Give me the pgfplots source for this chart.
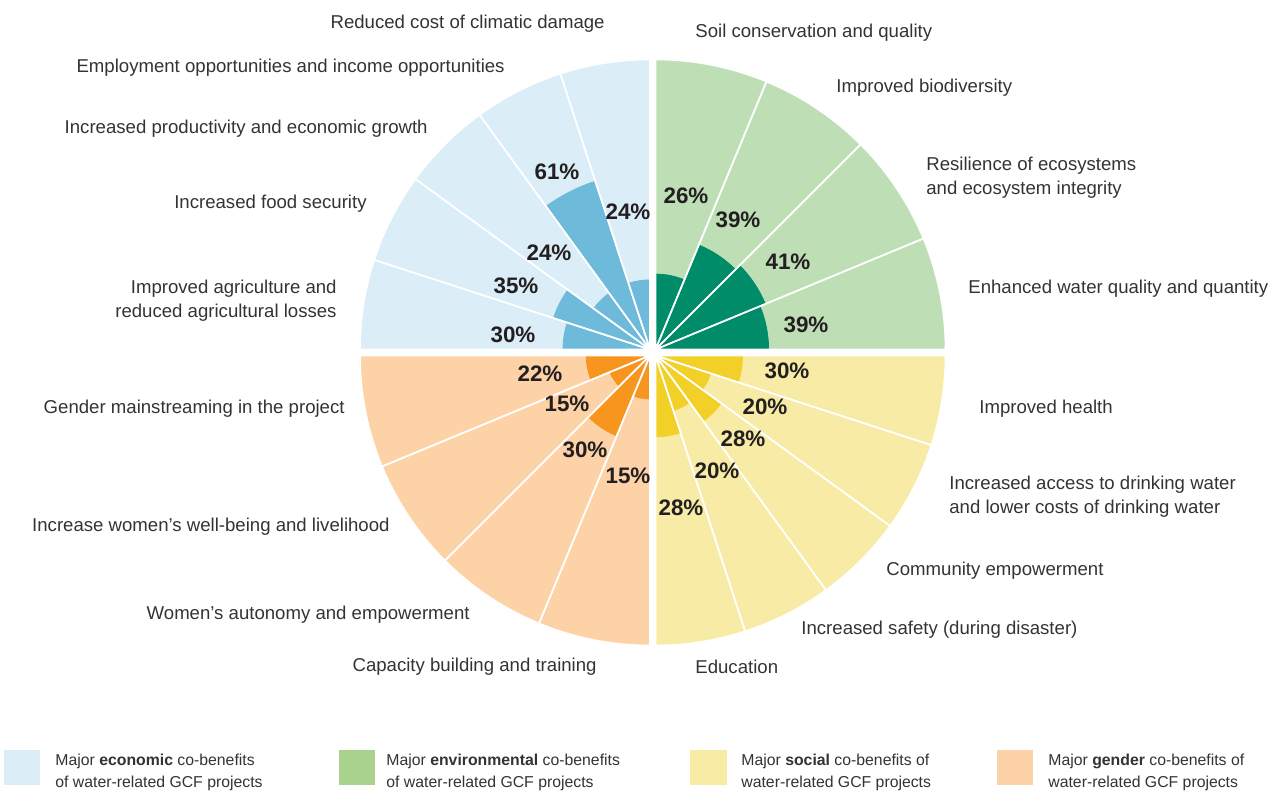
\documentclass[border=0pt]{standalone}
\usepackage{pgfplots}
\usepackage{pgfplotstable}
\usepackage{fontspec}
\pgfplotsset{compat=1.18}
\setmainfont{Liberation Sans}

\definecolor{EconLight}{HTML}{DBEDF7}
\definecolor{EconDark}{HTML}{6DBADB}
\definecolor{EnvLight}{HTML}{BEDFB6}
\definecolor{EnvDark}{HTML}{008B69}
\definecolor{EnvLegend}{HTML}{A9D28E}
\definecolor{SocLight}{HTML}{F8EBA5}
\definecolor{SocDark}{HTML}{F2D027}
\definecolor{GenLight}{HTML}{FED2A7}
\definecolor{GenDark}{HTML}{F7951F}
\definecolor{LabelGray}{HTML}{333333}
\definecolor{PctBlack}{HTML}{231F20}

% one row per wedge: centre of the quadrant, start and end angle, share in %
\pgfplotstableread{
x   y     a0    a1    v
650 448.5 90    108   24
650 448.5 108   126   61
650 448.5 126   144   24
650 448.5 144   162   35
650 448.5 162   180   30
}\econ
\pgfplotstableread{
x     y     a0    a1    v
655.5 448.5 0     22.5  39
655.5 448.5 22.5  45    41
655.5 448.5 45    67.5  39
655.5 448.5 67.5  90    26
}\env
\pgfplotstableread{
x     y     a0    a1    v
655.5 442.5 270   288   28
655.5 442.5 288   306   20
655.5 442.5 306   324   28
655.5 442.5 324   342   20
655.5 442.5 342   360   30
}\soc
\pgfplotstableread{
x   y     a0    a1    v
650 442.5 180   202.5 22
650 442.5 202.5 225   15
650 442.5 225   247.5 30
650 442.5 247.5 270   15
}\gen

\pgfplotsset{
  wedgebase/.style={
    scatter, only marks, mark=*, mark size=0pt,
    mark options={draw=none,fill=none},
    point meta=\thisrow{v}, point meta min=0, point meta max=100,
    visualization depends on={\thisrow{a0} \as \wa},
    visualization depends on={\thisrow{a1} \as \wb},
    visualization depends on={1.45*\thisrow{v} \as \wr},
    scatter/@post marker code/.code={},
  },
  % light background wedge, full radius
  fullwedge/.style={wedgebase,
    scatter/@pre marker code/.code={
      \fill[#1] (0,0) -- (\wa:145pt) arc[start angle=\wa,end angle=\wb,radius=145pt] -- cycle;}},
  % dark wedge, radius = share
  valwedge/.style={wedgebase,
    scatter/@pre marker code/.code={
      \fill[#1] (0,0) -- (\wa:\wr pt) arc[start angle=\wa,end angle=\wb,radius=\wr pt] -- cycle;}},
  % white separators on top
  sepwedge/.style={wedgebase,
    scatter/@pre marker code/.code={
      \draw[white,line width=0.8pt] (0,0) -- (\wa:145pt) arc[start angle=\wa,end angle=\wb,radius=145pt] -- cycle;}},
}

\begin{document}
\begin{tikzpicture}[
  lbl/.style={font=\fontsize{9.3}{12}\selectfont, text=LabelGray, inner sep=0pt},
  pct/.style={font=\fontsize{11.2}{13}\selectfont\bfseries, text=PctBlack, inner sep=0pt},
  leg/.style={font=\fontsize{7.9}{11}\selectfont, text=LabelGray, inner sep=0pt, align=left, anchor=west},
]
\begin{axis}[
  x=0.5pt, y=0.5pt,
  xmin=0, xmax=1271, ymin=0, ymax=798,
  hide axis, clip=false, clip marker paths=true,
  set layers,
]
\addplot[fullwedge=EconLight] table[x=x,y=y] {\econ};
\addplot[fullwedge=EnvLight]  table[x=x,y=y] {\env};
\addplot[fullwedge=SocLight]  table[x=x,y=y] {\soc};
\addplot[fullwedge=GenLight]  table[x=x,y=y] {\gen};
\addplot[valwedge=EconDark] table[x=x,y=y] {\econ};
\addplot[valwedge=EnvDark]  table[x=x,y=y] {\env};
\addplot[valwedge=SocDark]  table[x=x,y=y] {\soc};
\addplot[valwedge=GenDark]  table[x=x,y=y] {\gen};
\addplot[sepwedge] table[x=x,y=y] {\econ};
\addplot[sepwedge] table[x=x,y=y] {\env};
\addplot[sepwedge] table[x=x,y=y] {\soc};
\addplot[sepwedge] table[x=x,y=y] {\gen};

\begin{pgfonlayer}{axis foreground}
% category labels, left side
\node[lbl,anchor=east] at (axis cs:605,774) {Reduced cost of climatic damage};
\node[lbl,anchor=east] at (axis cs:505,730) {Employment opportunities and income opportunities};
\node[lbl,anchor=east] at (axis cs:428,669) {Increased productivity and economic growth};
\node[lbl,anchor=east] at (axis cs:367,594) {Increased food security};
\node[lbl,anchor=east,align=right] at (axis cs:337,497) {Improved agriculture and\\reduced agricultural losses};
\node[lbl,anchor=east] at (axis cs:345,389) {Gender mainstreaming in the project};
\node[lbl,anchor=east] at (axis cs:390,271) {Increase women’s well-being and livelihood};
\node[lbl,anchor=east] at (axis cs:470,183) {Women’s autonomy and empowerment};
\node[lbl,anchor=east] at (axis cs:597,131) {Capacity building and training};
% right side
\node[lbl,anchor=west] at (axis cs:695,765) {Soil conservation and quality};
\node[lbl,anchor=west] at (axis cs:836,710) {Improved biodiversity};
\node[lbl,anchor=west,align=left] at (axis cs:926,620) {Resilience of ecosystems\\and ecosystem integrity};
\node[lbl,anchor=west] at (axis cs:968,509) {Enhanced water quality and quantity};
\node[lbl,anchor=west] at (axis cs:979,389) {Improved health};
\node[lbl,anchor=west,align=left] at (axis cs:949,301) {Increased access to drinking water\\and lower costs of drinking water};
\node[lbl,anchor=west] at (axis cs:886,227) {Community empowerment};
\node[lbl,anchor=west] at (axis cs:801,168) {Increased safety (during disaster)};
\node[lbl,anchor=west] at (axis cs:695,131) {Education};

% shares
\node[pct] at (axis cs:628,586) {24\%};
\node[pct] at (axis cs:557,626) {61\%};
\node[pct] at (axis cs:549,545) {24\%};
\node[pct] at (axis cs:516,512) {35\%};
\node[pct] at (axis cs:513,463) {30\%};
\node[pct] at (axis cs:686,602) {26\%};
\node[pct] at (axis cs:738,578) {39\%};
\node[pct] at (axis cs:788,536) {41\%};
\node[pct] at (axis cs:806,473) {39\%};
\node[pct] at (axis cs:787,427) {30\%};
\node[pct] at (axis cs:765,391) {20\%};
\node[pct] at (axis cs:743,359) {28\%};
\node[pct] at (axis cs:717,327) {20\%};
\node[pct] at (axis cs:681,290) {28\%};
\node[pct] at (axis cs:540,424) {22\%};
\node[pct] at (axis cs:567,394) {15\%};
\node[pct] at (axis cs:585,348) {30\%};
\node[pct] at (axis cs:628,322) {15\%};

% legend
\fill[EconLight] (axis cs:4,13) rectangle (axis cs:40,48);
\fill[EnvLegend] (axis cs:339,13) rectangle (axis cs:375,48);
\fill[SocLight]  (axis cs:690,13) rectangle (axis cs:727,48);
\fill[GenLight]  (axis cs:997,13) rectangle (axis cs:1033,48);
\node[leg] at (axis cs:55,26) {Major \textbf{economic} co-benefits\\of water-related GCF projects};
\node[leg] at (axis cs:386,26) {Major \textbf{environmental} co-benefits\\of water-related GCF projects};
\node[leg] at (axis cs:741,26) {Major \textbf{social} co-benefits of\\water-related GCF projects};
\node[leg] at (axis cs:1048,26) {Major \textbf{gender} co-benefits of\\water-related GCF projects};
\end{pgfonlayer}
\end{axis}
\pgfresetboundingbox
\useasboundingbox (current axis.south west) rectangle (current axis.north east);
\end{tikzpicture}
\end{document}
